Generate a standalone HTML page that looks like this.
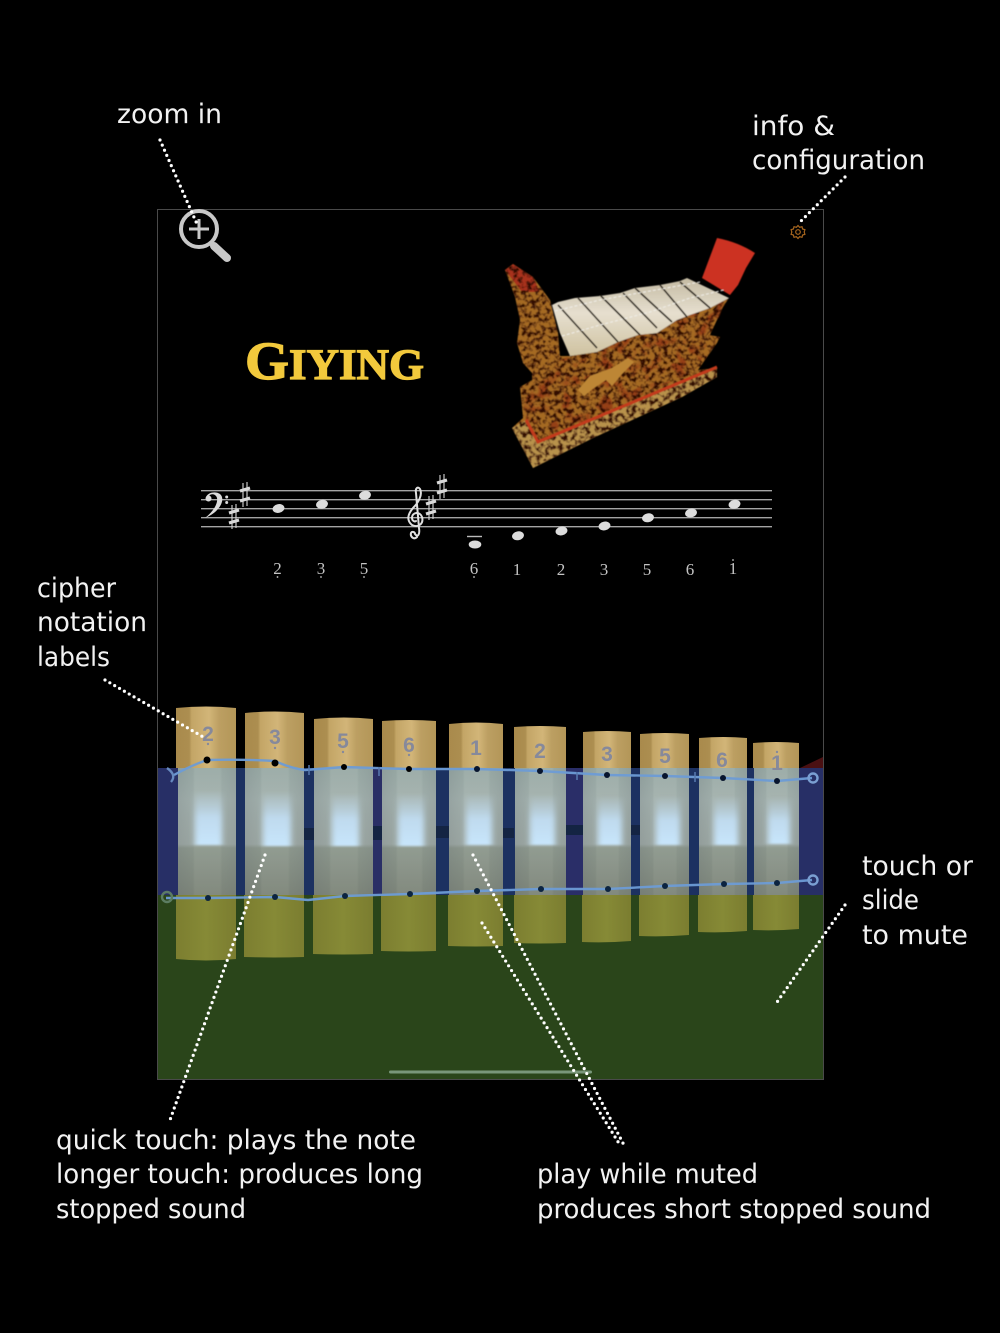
<!DOCTYPE html>
<html><head><meta charset="utf-8"><title>Giying</title>
<style>
html,body{margin:0;padding:0;background:#000;width:1000px;height:1333px;overflow:hidden}
svg{display:block}
.l{font-family:"DejaVu Sans",sans-serif;font-size:27px;fill:#f2f2f2}
.c{font-family:"Liberation Serif",serif;font-size:17px;fill:#c4c4c4;text-anchor:middle}
.n{font-family:"Liberation Sans",sans-serif;font-size:21px;font-weight:bold;fill:#86899b;text-anchor:middle}
.d{fill:none;stroke:#fff;stroke-width:3.2;stroke-linecap:round;stroke-dasharray:0 5.6}
.t{fill:url(#gt)}.b{fill:url(#gb)}.m{fill:url(#gm)}.s{fill:url(#gs)}.h{fill:url(#gh);filter:url(#bl)}
.o{fill:#dcdcdc}
</style></head><body>
<svg width="1000" height="1333" viewBox="0 0 1000 1333" xmlns="http://www.w3.org/2000/svg">
<defs>
<linearGradient id="gt" x1="0" x2="1" y1="0" y2="0"><stop offset="0" stop-color="#a98a4c"/><stop offset=".22" stop-color="#ac8e50"/><stop offset=".26" stop-color="#c3a566"/><stop offset=".55" stop-color="#d2b578"/><stop offset=".72" stop-color="#bc9f62"/><stop offset="1" stop-color="#b39658"/></linearGradient>
<linearGradient id="gb" x1="0" x2="1" y1="0" y2="0"><stop offset="0" stop-color="#7c7e30"/><stop offset=".5" stop-color="#868a36"/><stop offset="1" stop-color="#7b7d30"/></linearGradient>
<linearGradient id="gm" x1="0" x2="0" y1="0" y2="1"><stop offset="0" stop-color="#9aaba6"/><stop offset=".25" stop-color="#a4b2ae"/><stop offset=".6" stop-color="#a0aba6"/><stop offset=".63" stop-color="#8e998e"/><stop offset="1" stop-color="#7e867a"/></linearGradient>
<linearGradient id="gs" x1="0" x2="1" y1="0" y2="0"><stop offset="0" stop-color="#4d5560" stop-opacity=".16"/><stop offset=".26" stop-color="#4d5560" stop-opacity=".06"/><stop offset=".3" stop-color="#fff" stop-opacity=".03"/><stop offset=".72" stop-color="#fff" stop-opacity=".03"/><stop offset=".76" stop-color="#4d5560" stop-opacity=".05"/><stop offset="1" stop-color="#4d5560" stop-opacity=".14"/></linearGradient>
<linearGradient id="gh" x1="0" x2="0" y1="0" y2="1"><stop offset="0" stop-color="#c4e2fa" stop-opacity="0"/><stop offset=".5" stop-color="#c4e2fa" stop-opacity=".85"/><stop offset="1" stop-color="#c8e6fc"/></linearGradient>
<linearGradient id="gk" x1="0" x2="0" y1="0" y2="1"><stop offset="0" stop-color="#c4baa2"/><stop offset=".45" stop-color="#e6dfcf"/><stop offset="1" stop-color="#cfc2a0"/></linearGradient>
<filter id="bl" x="-30%" y="-30%" width="160%" height="160%"><feGaussianBlur stdDeviation="3 1"/></filter>
<filter id="carve" x="0" y="0" width="100%" height="100%" color-interpolation-filters="sRGB">
<feTurbulence type="fractalNoise" baseFrequency=".22" numOctaves="2" seed="7" result="n"/>
<feColorMatrix in="n" type="matrix" values="0 0 0 0 .2  0 0 0 0 .06  0 0 0 0 .02  4 0 0 0 -1.75" result="k"/>
<feComposite in="k" in2="SourceAlpha" operator="in"/>
</filter>
<filter id="redn" x="0" y="0" width="100%" height="100%" color-interpolation-filters="sRGB">
<feTurbulence type="fractalNoise" baseFrequency=".08" numOctaves="2" seed="21" result="n"/>
<feColorMatrix in="n" type="matrix" values="0 0 0 0 .55  0 0 0 0 .14  0 0 0 0 .05  5 0 0 0 -2.5" result="k"/>
<feComposite in="k" in2="SourceAlpha" operator="in"/>
</filter>
<filter id="soft"><feGaussianBlur stdDeviation=".45"/></filter>
<symbol id="sh" viewBox="0 0 12 26" overflow="visible">
<path d="M4 1V25M8 0V24" stroke="#d8d8d8" stroke-width="1.1" fill="none"/>
<path d="M1 9L11 6M1 19L11 16" stroke="#d8d8d8" stroke-width="3.2" fill="none"/>
</symbol>
</defs>

<rect width="1000" height="1333" fill="#000"/>
<path d="M800 768L823 757V768Z" fill="#4a1012"/>
<rect x="157" y="768" width="667" height="127" fill="#1c3161"/>
<rect x="157" y="768" width="21" height="127" fill="#272f66"/>
<rect x="799" y="768" width="25" height="127" fill="#272f66"/>
<rect x="373" y="768" width="9" height="127" fill="#2a2f66"/>
<rect x="566" y="768" width="17" height="127" fill="#2a2e68"/>
<path d="M304 828h10v12h-10zM373 826h9v14h-9zM436 826h13v12h-13zM503 828h11v10h-11zM566 825h17v10h-17zM631 825h9v10h-9z" fill="#142443"/>
<rect x="157" y="895" width="667" height="185" fill="#2a451a"/>
<rect x="157.500" y="209.500" width="666" height="870" fill="none" stroke="#4a4a4a" stroke-width="1"/>
<rect x="389" y="1070.500" width="203" height="3" rx="1.500" fill="#79967a"/>

<!-- bars -->
<g>
<path class="t" d="M176 768V708Q206 705 236 708V768Z"/><rect class="m" x="178" y="768" width="58" height="127"/><rect class="s" x="178" y="768" width="58" height="127"/><rect class="h" x="195" y="790" width="27" height="55"/><path class="b" d="M176 895V959Q206 962 236 959V895Z"/>
<path class="t" d="M245 768V713Q275 710 304 713V768Z"/><rect class="m" x="245" y="768" width="59" height="127"/><rect class="s" x="245" y="768" width="59" height="127"/><rect class="h" x="263" y="791" width="28" height="55"/><path class="b" d="M244 895V957Q274 958 304 957V895Z"/>
<path class="t" d="M314 768V719Q344 716 373 719V768Z"/><rect class="m" x="314" y="768" width="59" height="127"/><rect class="s" x="314" y="768" width="59" height="127"/><rect class="h" x="332" y="793" width="27" height="53"/><path class="b" d="M313 895V954Q343 955 373 954V895Z"/>
<path class="t" d="M382 768V721Q409 719 436 721V768Z"/><rect class="m" x="382" y="768" width="54" height="127"/><rect class="s" x="382" y="768" width="54" height="127"/><rect class="h" x="398" y="793" width="26" height="53"/><path class="b" d="M381 895V951Q409 952 436 951V895Z"/>
<path class="t" d="M449 768V724Q476 721 503 724V768Z"/><rect class="m" x="449" y="768" width="54" height="127"/><rect class="s" x="449" y="768" width="54" height="127"/><rect class="h" x="466" y="793" width="26" height="52"/><path class="b" d="M448 895V946Q476 947 503 946V895Z"/>
<path class="t" d="M514 768V727Q540 725 566 727V768Z"/><rect class="m" x="515" y="768" width="51" height="127"/><rect class="s" x="515" y="768" width="51" height="127"/><rect class="h" x="530" y="794" width="25" height="51"/><path class="b" d="M514 895V943Q540 944 566 943V895Z"/>
<path class="t" d="M583 768V732Q607 730 631 732V768Z"/><rect class="m" x="583" y="768" width="48" height="127"/><rect class="s" x="583" y="768" width="48" height="127"/><rect class="h" x="598" y="796" width="24" height="49"/><path class="b" d="M582 895V942Q607 943 631 941V895Z"/>
<path class="t" d="M640 768V734Q665 732 689 734V768Z"/><rect class="m" x="640" y="768" width="49" height="127"/><rect class="s" x="640" y="768" width="49" height="127"/><rect class="h" x="656" y="796" width="24" height="49"/><path class="b" d="M639 895V936Q664 937 689 935V895Z"/>
<path class="t" d="M699 768V738Q723 736 747 738V768Z"/><rect class="m" x="699" y="768" width="48" height="127"/><rect class="s" x="699" y="768" width="48" height="127"/><rect class="h" x="714" y="796" width="24" height="49"/><path class="b" d="M698 895V932Q723 933 747 931V895Z"/>
<path class="t" d="M753 768V743Q776 741 799 743V768Z"/><rect class="m" x="754" y="768" width="45" height="127"/><rect class="s" x="754" y="768" width="45" height="127"/><rect class="h" x="768" y="797" width="22" height="47"/><path class="b" d="M753 895V930Q776 931 799 929V895Z"/>
</g>

<!-- bar labels -->
<text class="n" x="208" y="741">2</text><circle cx="208" cy="744" r="1.200" fill="#86899b"/>
<text class="n" x="275" y="744">3</text><circle cx="275" cy="748" r="1.200" fill="#86899b"/>
<text class="n" x="343" y="748">5</text><circle cx="343" cy="752" r="1.200" fill="#86899b"/>
<text class="n" x="409" y="752">6</text><circle cx="409" cy="755" r="1.200" fill="#86899b"/>
<text class="n" x="476" y="755">1</text>
<text class="n" x="540" y="758">2</text>
<text class="n" x="607" y="761">3</text>
<text class="n" x="665" y="763">5</text>
<text class="n" x="722" y="767">6</text>
<text class="n" x="777" y="770">1</text><circle cx="777" cy="752" r="1.200" fill="#86899b"/>

<!-- wires -->
<g fill="none" stroke="#6d9cd6" stroke-width="2.400" stroke-linejoin="round" opacity=".95">
<path d="M174 775Q190 766 207 760Q240 759 275 761Q290 768 305 770L344 767L409 769L477 769L540 771L607 775L665 776L723 778L777 781L812 778"/>
<path d="M166 898L208 898L275 897L308 900L345 896L410 894L477 891L541 889L608 889L665 886L724 884L777 883L812 880"/>
<circle cx="813" cy="778" r="4.500" stroke="#7fa6d8"/><circle cx="813" cy="880" r="4.500" stroke="#7fa6d8"/>
<circle cx="167" cy="897" r="5" stroke="#5f8066"/>
<path d="M167 768Q177 775 171 782" stroke="#6b8fc4"/>
<path d="M309 765V775M379 767V776M695 772V782M577 772V780" stroke="#5c7fb4" stroke-width="1.500"/>
</g>
<g fill="#000">
<circle cx="207" cy="760" r="3.500"/><circle cx="275" cy="763" r="3.500"/><circle cx="344" cy="767" r="3"/><circle cx="409" cy="769" r="3"/><circle cx="477" cy="769" r="3" fill="#08152e"/><circle cx="540" cy="771" r="3" fill="#08152e"/><circle cx="607" cy="775" r="3" fill="#08152e"/><circle cx="665" cy="776" r="3" fill="#08152e"/><circle cx="723" cy="778" r="3" fill="#08152e"/><circle cx="777" cy="781" r="3" fill="#08152e"/>
</g>
<g fill="#0c2440">
<circle cx="208" cy="898" r="3"/><circle cx="275" cy="897" r="3"/><circle cx="345" cy="896" r="3"/><circle cx="410" cy="894" r="3"/><circle cx="477" cy="891" r="3"/><circle cx="541" cy="889" r="3"/><circle cx="608" cy="889" r="3"/><circle cx="665" cy="886" r="3"/><circle cx="724" cy="884" r="3"/><circle cx="777" cy="883" r="3"/>
</g>

<!-- title -->
<text x="245" y="379" fill="#f2c93c" stroke="#f2c93c" stroke-width="1.200" font-family="'Liberation Serif',serif" font-weight="bold" font-size="54" textLength="179" lengthAdjust="spacingAndGlyphs">G<tspan font-size="43">IYING</tspan></text>

<!-- gamelan -->
<g filter="url(#soft)">
<path d="M717 238Q738 242 755 253L746 268L738 285L730 295L702 278Z" fill="#cc3220"/>
<path d="M570 356L597 352L618 342L638 335L657 333L677 320L690 315L710 308L729 298L723 307L710 335L720 337L717 343L698 370L717 368L717 377L682 397L593 438L533 468L512 428L523 418L520 387L532 380L532 373L523 363L517 343L520 320L515 297L505 270L513 264L533 277L550 300L558 333L560 356Z" fill="#a56a24"/>
<path d="M505 270L513 264L533 277L540 292L522 292Z" fill="#a8321c"/>
<path d="M526 420L538 442L717 368V377L682 397L593 438L533 468L512 428Z" fill="#b8924c"/>
<path d="M570 356L729 298L710 335L698 370L538 442L526 420L523 400L560 360Z" filter="url(#redn)" opacity=".6"/>
<path d="M570 356L597 352L618 342L638 335L657 333L677 320L690 315L710 308L729 298L723 307L710 335L720 337L717 343L698 370L717 368L717 377L682 397L593 438L533 468L512 428L523 418L520 387L532 380L532 373L523 363L517 343L520 320L515 297L505 270L513 264L533 277L550 300L558 333L560 356Z" filter="url(#carve)"/>
<path d="M578 390L590 376L612 368L628 358L634 362L622 374L612 386L606 380L594 388L584 396Z" fill="#bd8636"/>
<path d="M526 420L538 442L717 367" fill="none" stroke="#c23a1c" stroke-width="3"/>
<path d="M552 305L558 302L575 298L600 296L620 293L635 288L660 285L680 281L687 278L729 298L710 308L690 315L677 320L657 333L638 335L618 342L597 352L570 356L560 333Z" fill="url(#gk)"/>
<path d="M558 305L597 348M578 298L618 342M600 295L640 335M623 293L657 328M635 288L672 322M660 285L687 317M680 282L710 308" stroke="#1e1509" stroke-width="1.600" fill="none"/>
<path d="M555 311L600 300L650 291L700 282M562 336L600 325L650 312L690 298L724 290" stroke="#f0eee8" stroke-width="1" fill="none" stroke-dasharray="3 2"/>
</g>

<!-- gear -->
<g fill="none" stroke="#a8661e" stroke-width="1.200">
<circle cx="798" cy="232" r="2.300"/>
<path d="M798 225.500l1.600 1.800 2.400-.6.600 2.300 2.300.7-.7 2.300 .7 2.300-2.300.7-.6 2.300-2.400-.6-1.600 1.800-1.600-1.800-2.400.6-.6-2.300-2.300-.7.7-2.300-.7-2.300 2.300-.7.600-2.300 2.400.6z"/>
</g>

<!-- staff -->
<g stroke="#a4a4a4" stroke-width="1.400">
<path d="M201 490.700H772M201 499.700H772M201 508.700H772M201 517.700H772M201 526.700H772"/>
<path d="M467 536.500H482" stroke="#bbb"/>
</g>
<!-- bass clef -->
<path d="M206 497C208 492 216 491 220 494C226 499 220 512 205 518C214 511 218 503 217 498C216 494 211 493 209 496Z" fill="#dcdcdc"/>
<circle cx="208.500" cy="498.500" r="3" fill="#dcdcdc"/>
<circle cx="226.700" cy="497" r="1.500" fill="#ddd"/><circle cx="226.700" cy="502.500" r="1.500" fill="#ddd"/>
<!-- treble clef -->
<path d="M417 537C414 540 410 537 411 533C412 531 415 532 415 534M415 534C418 538 420 534 419 528L416 493C415 488 418 486 420 489C423 495 418 503 413 508C408 514 406 520 412 525C418 528 424 524 422 517C420 511 412 512 412 518C412 521 415 522 416 521" fill="none" stroke="#e0e0e0" stroke-width="2" stroke-linecap="round"/>
<use href="#sh" x="228" y="504" width="12" height="26"/>
<use href="#sh" x="239" y="482" width="12" height="26"/>
<use href="#sh" x="425" y="495" width="12" height="26"/>
<use href="#sh" x="436" y="474" width="12" height="26"/>
<g>
<ellipse class="o" cx="278.500" cy="508.500" rx="6" ry="4.400" transform="rotate(-12 278.500 508.500)"/>
<ellipse class="o" cx="322" cy="504.300" rx="6" ry="4.400" transform="rotate(-12 322 504.300)"/>
<ellipse class="o" cx="365" cy="495.300" rx="6" ry="4.400" transform="rotate(-12 365 495.300)"/>
<ellipse class="o" cx="475" cy="544.500" rx="6.300" ry="4"/>
<ellipse class="o" cx="518" cy="535.800" rx="6" ry="4.400" transform="rotate(-12 518 535.800)"/>
<ellipse class="o" cx="561.500" cy="531" rx="6" ry="4.400" transform="rotate(-12 561.500 531)"/>
<ellipse class="o" cx="604.500" cy="526" rx="6" ry="4.400" transform="rotate(-12 604.500 526)"/>
<ellipse class="o" cx="648" cy="517.800" rx="6" ry="4.400" transform="rotate(-12 648 517.800)"/>
<ellipse class="o" cx="691" cy="513" rx="6" ry="4.400" transform="rotate(-12 691 513)"/>
<ellipse class="o" cx="734.500" cy="504.300" rx="6" ry="4.400" transform="rotate(-12 734.500 504.300)"/>
</g>
<!-- cipher -->
<text class="c" x="277.500" y="574">2</text><circle cx="277.500" cy="577" r=".9" fill="#c4c4c4"/>
<text class="c" x="321" y="574">3</text><circle cx="321" cy="577" r=".9" fill="#c4c4c4"/>
<text class="c" x="364" y="574">5</text><circle cx="364" cy="577" r=".9" fill="#c4c4c4"/>
<text class="c" x="474" y="574">6</text><circle cx="474" cy="577" r=".9" fill="#c4c4c4"/>
<text class="c" x="517" y="575">1</text>
<text class="c" x="561" y="575">2</text>
<text class="c" x="604" y="575">3</text>
<text class="c" x="647" y="575">5</text>
<text class="c" x="690" y="575">6</text>
<text class="c" x="733" y="574">1</text><circle cx="733" cy="560" r=".9" fill="#c4c4c4"/>

<!-- magnifier -->
<g fill="none" stroke="#c8c8c8">
<circle cx="199" cy="229" r="18" stroke-width="4"/>
<path d="M189 229H209M199 219V239" stroke-width="3"/>
<path d="M214 246L227 258" stroke-width="8" stroke-linecap="round"/>
</g>

<!-- dotted leaders -->
<path class="d" d="M160 140L197 224"/>
<path class="d" d="M845 177L800 222"/>
<path class="d" d="M105 680L205 738"/>
<path class="d" d="M265 855L170 1120"/>
<path class="d" d="M473 855L625 1147"/>
<path class="d" d="M482 923L620 1145"/>
<path class="d" d="M845 905L775 1005"/>

<!-- labels -->
<text class="l" x="117" y="123" textLength="105" lengthAdjust="spacingAndGlyphs">zoom in</text>
<text class="l" x="752" y="135" textLength="83" lengthAdjust="spacingAndGlyphs">info &amp;</text>
<text class="l" x="752" y="169" textLength="173" lengthAdjust="spacingAndGlyphs">configuration</text>
<text class="l" x="37" y="597" textLength="79" lengthAdjust="spacingAndGlyphs">cipher</text>
<text class="l" x="37" y="631" textLength="110" lengthAdjust="spacingAndGlyphs">notation</text>
<text class="l" x="37" y="666" textLength="73" lengthAdjust="spacingAndGlyphs">labels</text>
<text class="l" x="862" y="875" textLength="111" lengthAdjust="spacingAndGlyphs">touch or</text>
<text class="l" x="862" y="909" textLength="57" lengthAdjust="spacingAndGlyphs">slide</text>
<text class="l" x="862" y="944" textLength="106" lengthAdjust="spacingAndGlyphs">to mute</text>
<text class="l" x="56" y="1149" textLength="360" lengthAdjust="spacingAndGlyphs">quick touch: plays the note</text>
<text class="l" x="56" y="1183" textLength="367" lengthAdjust="spacingAndGlyphs">longer touch: produces long</text>
<text class="l" x="56" y="1218" textLength="190" lengthAdjust="spacingAndGlyphs">stopped sound</text>
<text class="l" x="537" y="1183" textLength="221" lengthAdjust="spacingAndGlyphs">play while muted</text>
<text class="l" x="537" y="1218" textLength="394" lengthAdjust="spacingAndGlyphs">produces short stopped sound</text>
</svg>
</body></html>
